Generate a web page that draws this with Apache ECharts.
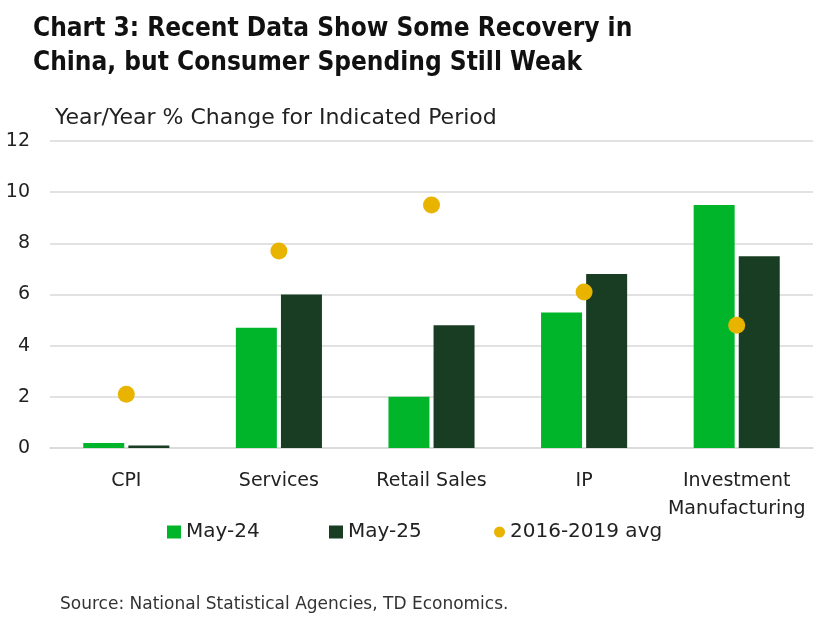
<!DOCTYPE html>
<html>
<head>
<meta charset="utf-8">
<script src="https://cdn.jsdelivr.net/npm/echarts@6/dist/echarts.min.js"></script>
<style>
html,body{margin:0;padding:0;background:#fff;}
#c{width:827px;height:617px;}
</style>
</head>
<body>
<div id="c"></div>
<script>
const categories = ['CPI', 'Services', 'Retail Sales', 'IP', 'Investment\nManufacturing'];
const may24 = [0.2, 4.7, 2.0, 5.3, 9.5];
const may25 = [0.1, 6.0, 4.8, 6.8, 7.5];
const avg1619 = [2.1, 7.7, 9.5, 6.1, 4.8];
const yTicks = [0, 2, 4, 6, 8, 10, 12];

const TITLE_FONT = '"DejaVu Sans Condensed", "Liberation Sans Narrow", sans-serif';
const FONT = '"DejaVu Sans", "Noto Sans", sans-serif';
const legendText = {fontFamily: FONT, fontSize: 20, color: '#222'};
const chart = echarts.init(document.getElementById('c'), null, {renderer: 'canvas'});
chart.setOption({
  backgroundColor: '#ffffff',
  animation: false,
  textStyle: {fontFamily: FONT},
  title: [
    {
      text: 'Chart 3: Recent Data Show Some Recovery in\nChina, but Consumer Spending Still Weak',
      left: 28, top: 7,
      textStyle: {fontFamily: TITLE_FONT, fontSize: 26, fontWeight: 'bold', color: '#111', lineHeight: 34}
    },
    {
      text: 'Year/Year % Change for Indicated Period',
      left: 50, top: 102,
      textStyle: {fontFamily: FONT, fontSize: 22, fontWeight: 'normal', color: '#222'}
    },
    {
      text: 'Source: National Statistical Agencies, TD Economics.',
      left: 55, top: 591,
      textStyle: {fontFamily: FONT, fontSize: 17, fontWeight: 'normal', color: '#333'}
    }
  ],
  legend: [
    {left: 162, top: 517, itemWidth: 14, itemHeight: 13, itemGap: 6, textStyle: legendText,
     data: [{name: 'May-24', icon: 'rect'}]},
    {left: 324, top: 517, itemWidth: 14, itemHeight: 13, itemGap: 6, textStyle: legendText,
     data: [{name: 'May-25', icon: 'rect'}]},
    {left: 489, top: 517, itemWidth: 11, itemHeight: 11, itemGap: 6, textStyle: legendText,
     data: [{name: '2016-2019 avg', icon: 'circle'}]}
  ],
  grid: {left: 50, right: 14, top: 141, bottom: 169, containLabel: false},
  xAxis: {
    type: 'category',
    data: categories,
    axisLine: {show: true, lineStyle: {color: '#d9d9d9', width: 1.5}},
    axisTick: {show: false},
    axisLabel: {fontFamily: FONT, fontSize: 19, color: '#222', margin: 19, lineHeight: 28, interval: 0}
  },
  yAxis: {
    type: 'value',
    min: yTicks[0], max: yTicks[yTicks.length - 1], interval: 2,
    axisLine: {show: false},
    axisTick: {show: false},
    splitLine: {lineStyle: {color: '#d9d9d9', width: 1.5}},
    axisLabel: {fontFamily: FONT, fontSize: 19, color: '#222', margin: 20}
  },
  series: [
    {
      name: 'May-24', type: 'bar', data: may24,
      barWidth: 41, barGap: '10%',
      itemStyle: {color: '#00b52a'}
    },
    {
      name: 'May-25', type: 'bar', data: may25,
      barWidth: 41,
      itemStyle: {color: '#193d23'}
    },
    {
      name: '2016-2019 avg', type: 'scatter', data: avg1619,
      symbol: 'circle', symbolSize: 17,
      itemStyle: {color: '#e8b400', opacity: 1},
      z: 5
    }
  ]
});
</script>
</body>
</html>
